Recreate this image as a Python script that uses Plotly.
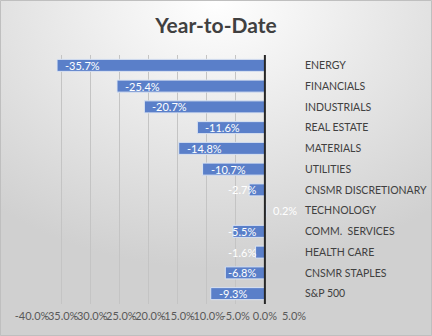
import base64
import plotly.graph_objects as go

categories = ["ENERGY", "FINANCIALS", "INDUSTRIALS", "REAL ESTATE", "MATERIALS", "UTILITIES",
              "CNSMR DISCRETIONARY", "TECHNOLOGY", "COMM.  SERVICES", "HEALTH CARE",
              "CNSMR STAPLES", "S&P 500"]
values = [-35.7, -25.4, -20.7, -11.6, -14.8, -10.7, -2.7, 0.2, -5.5, -1.6, -6.8, -9.3]
tick_vals = [-40, -35, -30, -25, -20, -15, -10, -5, 0, 5]
tick_text = ["-40.0%", "-35.0%", "-30.0%", "-25.0%", "-20.0%", "-15.0%", "-10.0%", "-5.0%", "0.0%", "5.0%"]

W, H = 432, 336
ML, MR, MT, MB = 32, 138, 55, 32
FONT = "Lato"

fig = go.Figure(go.Bar(
    x=values, y=categories, orientation="h",
    marker=dict(color="#5A7FC9", line=dict(color="#DCE4F2", width=1)),
    width=0.58, hoverinfo="skip",
))

annotations = []
for c, v in zip(categories, values):
    txt = f"{v:.1f}%"
    if v >= 0:
        annotations.append(dict(x=v, y=c, text=txt, xanchor="left", xshift=5, showarrow=False))
    elif abs(v) >= 9:
        annotations.append(dict(x=v, y=c, text=txt, xanchor="left", xshift=6, showarrow=False))
    else:
        annotations.append(dict(x=0, y=c, text=txt, xanchor="right", xshift=-7, showarrow=False))
for a in annotations:
    a.update(xref="x", yref="y", font=dict(family=FONT, size=11, color="white"))

svg = ('<svg xmlns="http://www.w3.org/2000/svg" width="432" height="336">'
       '<defs><radialGradient id="g" cx="50%" cy="0%" r="80%">'
       '<stop offset="0" stop-color="#ffffff"/><stop offset="1" stop-color="#d0d0d0"/>'
       '</radialGradient></defs><rect width="432" height="336" fill="url(#g)"/></svg>')
src = "data:image/svg+xml;base64," + base64.b64encode(svg.encode()).decode()
pw, ph = W - ML - MR, H - MT - MB

fig.update_layout(
    width=W, height=H,
    margin=dict(l=ML, r=MR, t=MT, b=MB, autoexpand=False),
    paper_bgcolor="#d9d9d9", plot_bgcolor="rgba(0,0,0,0)",
    showlegend=False,
    title=dict(text="<b>Year-to-Date</b>", x=0.5, xref="container", xanchor="center",
               y=1 - 26 / H, yanchor="middle",
               font=dict(family=FONT, size=21, color="#404040")),
    xaxis=dict(range=[-40, 5], tickvals=tick_vals, ticktext=tick_text, tickangle=0,
               showgrid=True, gridcolor="#c4c4c4", gridwidth=1,
               zeroline=False, showline=False, ticks="", automargin=False,
               ticklabelstandoff=4,
               tickfont=dict(family=FONT, size=11, color="#595959")),
    yaxis=dict(categoryorder="array", categoryarray=categories, autorange="reversed",
               side="right", showgrid=False, zeroline=False, showline=False, ticks="",
               ticklabelstandoff=10, automargin=False,
               tickfont=dict(family=FONT, size=10.5, color="#404040")),
    annotations=annotations,
    images=[dict(source=src, xref="paper", yref="paper", x=-ML / pw, y=1 + MT / ph,
                 sizex=W / pw, sizey=H / ph, sizing="stretch", xanchor="left", yanchor="top",
                 layer="below")],
    shapes=[
        dict(type="rect", xref="paper", yref="paper", x0=-ML / pw + 0.5 / pw, x1=1 + (MR - 0.5) / pw,
             y0=-(MB - 0.5) / ph, y1=1 + (MT - 0.5) / ph, line=dict(color="#bfbfbf", width=1)),
        dict(type="line", xref="x", yref="paper", x0=0, x1=0, y0=0, y1=1, layer="above",
             line=dict(color="#262626", width=2)),
    ],
)

fig.write_html("out.html")
